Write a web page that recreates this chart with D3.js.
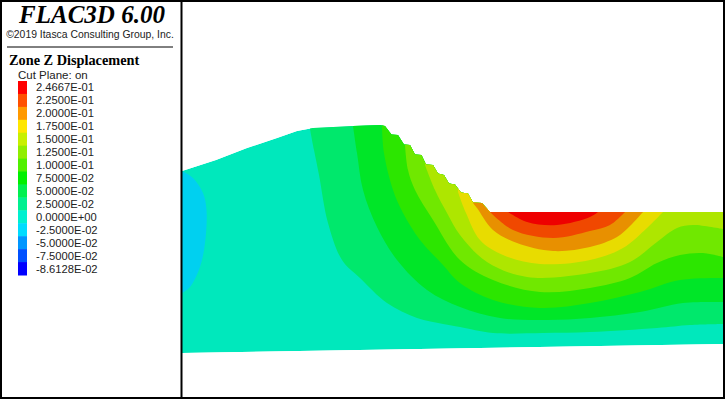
<!DOCTYPE html>
<html>
<head>
<meta charset="utf-8">
<script src="https://cdn.jsdelivr.net/npm/d3@7"></script>
<style>
  html, body { margin: 0; padding: 0; background: #fff; }
  svg { display: block; }
</style>
</head>
<body>
<div id="chart"></div>
<script>
// legend, top to bottom
var legendLabels = ["2.4667E-01", "2.2500E-01", "2.0000E-01", "1.7500E-01", "1.5000E-01",
  "1.2500E-01", "1.0000E-01", "7.5000E-02", "5.0000E-02", "2.5000E-02",
  "0.0000E+00", "-2.5000E-02", "-5.0000E-02", "-7.5000E-02", "-8.6128E-02"];
var legendColors = ["#ff0000", "#ff5000", "#ff9900", "#ffe600", "#c8f000",
  "#90ee00", "#50f000", "#00f000", "#00f050", "#00f090",
  "#00f0d0", "#00dcff", "#0096ff", "#0050ff", "#0000ff"];

// section outline, model x / z
var surface = [[0,182],[34,193],[65,205],[95,215],[115,222],[131,225],[171,227],[198,228],[203,227],
  [209.5,218.5],[216,218],[222,208.5],[228,208],[233,198.5],[239.5,198],[244,188.5],[251,188],
  [256,179.5],[262,178],[267,169.5],[273,168.5],[279,160.5],[286,159.5],[291,150.5],[300,150],
  [308,141],[541,141],[541,9],[0,0]];

// contour lines of the z displacement
var contourNeg = [[0,182],[11,175],[21,160],[24.5,143],[23,110],[18,86],[8,66],[0,60]];
var contour025 = [[128,224],[132,203],[137,178],[146,130],[160,93],[178,75],[205,50],[235,35],[261,29],[278,26],[311,20],[361,20],[408,21],[475,25],[508,28],[541,29]];
var contour050 = [[171,227],[175,200],[181,163],[195,126],[215,93],[245,63],[278,46],[318,35],[365,33],[408,35],[458,41],[501,50],[541,51]];
var contour075 = [[200,227],[202,200],[211,163],[221,140],[238,113],[261,88],[278,70],[311,53],[358,45],[408,50],[458,61],[498,73],[541,75]];
var contour100 = [[223,208],[226,183],[233,163],[251,133],[278,93],[311,73],[358,61],[408,65],[448,75],[475,90],[498,98],[521,100],[541,96]];
var contour125 = [[243,188],[253,163],[265,140],[278,118],[305,91],[345,76],[408,80],[448,91],[475,111],[495,125],[511,128],[541,124]];
var contour150 = [[276,161],[284,140],[298,113],[321,98],[358,89],[408,93],[441,105],[465,125],[481,141]];
var contour175 = [[291,150],[295,145],[311,123],[335,110],[371,102],[408,106],[435,116],[448,127],[461,141]];
var contour200 = [[308,141],[331,123],[371,115],[408,122],[428,128],[443,141]];
var contour225 = [[326,141],[345,131],[375,128],[408,136],[416,141]];

var baseColor = "#00e8bc";
var negColor = "#00d0f0";
var bands = [
  { line: contour025, color: "#00e86c" },
  { line: contour050, color: "#00e628" },
  { line: contour075, color: "#2ce600" },
  { line: contour100, color: "#70e800" },
  { line: contour125, color: "#aee600" },
  { line: contour150, color: "#e8dc00" },
  { line: contour175, color: "#e89000" },
  { line: contour200, color: "#f04800" },
  { line: contour225, color: "#ee0000" }
];

var w = 725, h = 399, topZ = 353;

var svg = d3.select("#chart").append("svg").attr("width", w).attr("height", h);

var xScale = d3.scaleLinear().domain([0, 541]).range([182, 723]);
var zScale = d3.scaleLinear().domain([0, topZ]).range([353, 0]);

var straight = d3.line()
  .x(function (d) { return xScale(d[0]); })
  .y(function (d) { return zScale(d[1]); });
var smooth = d3.line()
  .x(function (d) { return xScale(d[0]); })
  .y(function (d) { return zScale(d[1]); })
  .curve(d3.curveCatmullRom.alpha(0.5));

svg.append("clipPath").attr("id", "section")
  .append("path").attr("d", straight(surface) + "Z");

var model = svg.append("g").attr("clip-path", "url(#section)");

model.append("path").attr("d", straight(surface) + "Z").attr("fill", baseColor);

// each band is the region above its contour, later bands paint over earlier ones
model.selectAll("path.band")
  .data(bands)
  .enter()
  .append("path")
  .attr("class", "band")
  .attr("fill", function (d) { return d.color; })
  .attr("d", function (d) {
    var a = d.line[0], b = d.line[d.line.length - 1];
    return smooth(d.line) + "L" + xScale(b[0]) + "," + zScale(topZ) +
      "L" + xScale(a[0]) + "," + zScale(topZ) + "Z";
  });

model.append("path").attr("d", smooth(contourNeg) + "Z").attr("fill", negColor);

// legend panel
var serif = "'Liberation Serif', serif";
var sans = "'Liberation Sans', sans-serif";

svg.append("text").text("FLAC3D 6.00")
  .attr("x", 92).attr("y", 23).attr("text-anchor", "middle")
  .style("font-family", serif).style("font-size", "25px")
  .style("font-weight", "bold").style("font-style", "italic").style("fill", "#000");
svg.append("text").text("©2019 Itasca Consulting Group, Inc.")
  .attr("x", 90).attr("y", 38).attr("text-anchor", "middle")
  .style("font-family", sans).style("font-size", "10.4px").style("fill", "#222");
svg.append("line").attr("x1", 7).attr("x2", 173).attr("y1", 47).attr("y2", 47)
  .attr("stroke", "#000").attr("stroke-width", 1);
svg.append("text").text("Zone Z Displacement")
  .attr("x", 9).attr("y", 65)
  .style("font-family", serif).style("font-size", "14.3px")
  .style("font-weight", "bold").style("fill", "#000");
svg.append("text").text("Cut Plane: on")
  .attr("x", 18).attr("y", 79)
  .style("font-family", sans).style("font-size", "11.5px").style("fill", "#222");

var legendScale = d3.scaleBand().domain(legendLabels).range([81, 275]);

svg.selectAll("rect.swatch")
  .data(legendLabels)
  .enter()
  .append("rect")
  .attr("class", "swatch")
  .attr("x", 18).attr("width", 9)
  .attr("y", function (d) { return legendScale(d); })
  .attr("height", legendScale.bandwidth() + 0.5)
  .attr("fill", function (d, i) { return legendColors[i]; });

svg.selectAll("text.label")
  .data(legendLabels)
  .enter()
  .append("text")
  .attr("class", "label")
  .text(function (d) { return d; })
  .attr("x", 36)
  .attr("y", function (d) { return legendScale(d) + legendScale.bandwidth() / 2 + 4; })
  .style("font-family", sans).style("font-size", "11.2px").style("fill", "#222");

// frame
svg.append("rect").attr("x", 1).attr("y", 1).attr("width", w - 2).attr("height", h - 2)
  .attr("fill", "none").attr("stroke", "#000").attr("stroke-width", 2);
svg.append("line").attr("x1", 181.5).attr("x2", 181.5).attr("y1", 0).attr("y2", h)
  .attr("stroke", "#000").attr("stroke-width", 2);
</script>
</body>
</html>
